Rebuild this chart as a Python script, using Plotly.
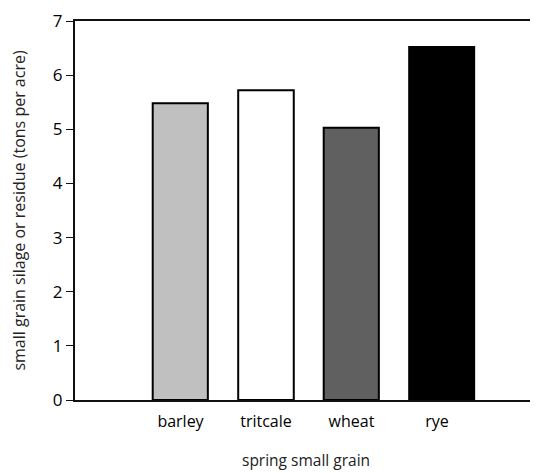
import plotly.graph_objects as go

categories = ["barley", "tritcale", "wheat", "rye"]
values = [5.48, 5.72, 5.03, 6.52]
y_ticks = [0, 1, 2, 3, 4, 5, 6, 7]

colors = ["#c0c0c0", "#ffffff", "#606060", "#000000"]
widths = [0.645, 0.65, 0.645, 0.76]

# page body has an 8px default margin; size the figure so that it fits the window
PAGE_OFF = 8
fig = go.Figure()
fig.add_trace(go.Bar(
    x=categories, y=values,
    width=widths, offset=-0.325,
    marker=dict(color=colors, line=dict(color="#000000", width=2)),
    showlegend=False,
))

font = "Open Sans, Noto Sans, sans-serif"
fig.update_layout(
    width=538 - PAGE_OFF, height=473 - PAGE_OFF,
    margin=dict(l=75 - PAGE_OFF, r=1, t=18 - PAGE_OFF, b=73),
    plot_bgcolor="white", paper_bgcolor="white",
    font=dict(family=font, color="#111111"),
)
fig.update_xaxes(
    type="category", range=[-1.234, 4.17],
    showline=True, linewidth=2, linecolor="#111111", mirror=True,
    ticks="", showgrid=False, zeroline=False, ticklabelstandoff=6,
    tickfont=dict(size=16, color="#000000", weight=500),
)
fig.update_yaxes(
    range=[0, 7], tickvals=y_ticks,
    showline=True, linewidth=2, linecolor="#111111",
    ticks="outside", ticklen=7, tickwidth=1, tickcolor="#111111",
    showgrid=False, zeroline=False, ticklabeloverflow="allow",
    tickfont=dict(size=17, color="#000000", weight=500),
    title=dict(text="small grain silage or residue (tons per acre)",
               font=dict(size=16, color="#222222"), standoff=24),
)
fig.add_shape(type="line", xref="paper", yref="paper", x0=1, x1=1, y0=0, y1=1,
              line=dict(color="#999999", width=1.5))
fig.add_annotation(text="spring small grain", xref="paper", yref="paper",
                   x=0.5, y=0, yshift=-73, showarrow=False,
                   xanchor="center", yanchor="bottom",
                   font=dict(size=15.5, color="#222222", family=font))

fig.write_html("out.html")
